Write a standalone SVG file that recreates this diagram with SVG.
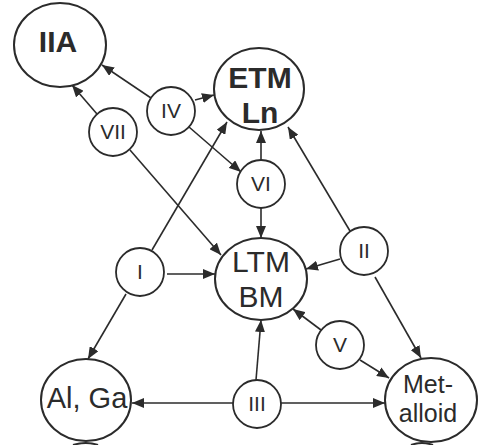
<svg xmlns="http://www.w3.org/2000/svg" width="478" height="445" viewBox="0 0 478 445">
<defs>
<marker id="ah" viewBox="0 0 12 10" refX="12" refY="5" markerWidth="12" markerHeight="10" markerUnits="userSpaceOnUse" orient="auto">
<path d="M0,0 L12,5 L0,10 Z" fill="#2b2b2b"/>
</marker>
<style>
.big{fill:#fff;stroke:#2b2b2b;stroke-width:2}
.sm{fill:#fff;stroke:#2b2b2b;stroke-width:1.8}
.e{stroke:#2b2b2b;stroke-width:1.6;fill:none;marker-end:url(#ah)}
text{font-family:"Liberation Sans",Arial,sans-serif;fill:#2b2b2b;text-anchor:middle}
.b{font-weight:bold}
.lbl{font-size:21px}
</style>
</defs>
<rect width="478" height="445" fill="#fff"/>
<g id="connectors">
<line class="e" x1="151" y1="98" x2="102" y2="65"/>
<line class="e" x1="195" y1="100" x2="214" y2="95"/>
<line class="e" x1="189" y1="127" x2="241" y2="172"/>
<line class="e" x1="97" y1="114" x2="72" y2="85"/>
<line class="e" x1="130" y1="150" x2="221" y2="255"/>
<line class="e" x1="152" y1="250" x2="227" y2="122"/>
<line class="e" x1="167" y1="274" x2="215" y2="274"/>
<line class="e" x1="126" y1="294" x2="88" y2="359"/>
<line class="e" x1="261" y1="160" x2="261" y2="131"/>
<line class="e" x1="261" y1="208" x2="261" y2="238"/>
<line class="e" x1="350" y1="231" x2="288" y2="127"/>
<line class="e" x1="340" y1="259" x2="306" y2="269"/>
<line class="e" x1="375" y1="277" x2="421" y2="358"/>
<line class="e" x1="321" y1="330" x2="293" y2="309"/>
<line class="e" x1="360" y1="360" x2="389" y2="378"/>
<line class="e" x1="256" y1="380" x2="261" y2="320"/>
<line class="e" x1="233" y1="403" x2="132" y2="403"/>
<line class="e" x1="281" y1="403" x2="385" y2="403"/>
</g>
<g id="IIA"><ellipse class="big" cx="60" cy="45" rx="46" ry="42"/><text class="b" x="58" y="52" font-size="30">IIA</text></g>
<g id="ETM"><ellipse class="big" cx="259" cy="89" rx="45" ry="41"/><text class="b" x="260" y="88" font-size="30">ETM</text><text class="b" x="260" y="123" font-size="30">Ln</text></g>
<g id="LTM"><ellipse class="big" cx="261" cy="279" rx="46" ry="41"/><text x="261" y="272" font-size="30">LTM</text><text x="261" y="307" font-size="30">BM</text></g>
<g id="AlGa"><ellipse class="big" cx="86" cy="400" rx="45" ry="41"/><text x="87" y="408" font-size="29">Al, Ga</text></g>
<g id="Metalloid"><ellipse class="big" cx="431" cy="400" rx="46" ry="42"/><text x="428" y="393" font-size="25">Met-</text><text x="428" y="422" font-size="25">alloid</text></g>
<g id="IV"><circle class="sm" cx="171" cy="111" r="24"/><text class="lbl" x="171" y="118">IV</text></g>
<g id="VII"><circle class="sm" cx="113" cy="132" r="24"/><text class="lbl" x="113" y="139">VII</text></g>
<g id="VI"><circle class="sm" cx="261" cy="184" r="24"/><text class="lbl" x="261" y="191">VI</text></g>
<g id="II"><circle class="sm" cx="364" cy="251" r="24"/><text class="lbl" x="364" y="258">II</text></g>
<g id="I"><circle class="sm" cx="140" cy="272" r="24"/><text class="lbl" x="140" y="279">I</text></g>
<g id="V"><circle class="sm" cx="340" cy="345" r="24"/><text class="lbl" x="340" y="352">V</text></g>
<g id="III"><circle class="sm" cx="257" cy="404" r="24"/><text class="lbl" x="257" y="411">III</text></g>
<path d="M73,445 Q86,441 98,445" stroke="#2b2b2b" stroke-width="2" fill="none"/>
<path d="M411,445 Q422,441 433,445" stroke="#2b2b2b" stroke-width="2" fill="none"/>
</svg>
